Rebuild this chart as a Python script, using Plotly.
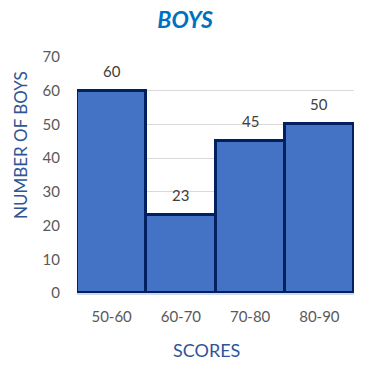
import plotly.graph_objects as go

categories = ["50-60", "60-70", "70-80", "80-90"]
boys = [60, 23, 45, 50]
y_ticks = [0, 10, 20, 30, 40, 50, 60, 70]

font_family = "Lato, 'Open Sans', sans-serif"

fig = go.Figure()
fig.add_trace(go.Bar(
    x=categories, y=boys,
    marker=dict(color="#4472C4", line=dict(color="#002060", width=3)),
    showlegend=False,
))
for c, v in zip(categories, boys):
    fig.add_annotation(x=c, y=v, text=str(v), showarrow=False, yanchor="bottom", yshift=9,
                       font=dict(size=15, color="#404040", family=font_family))

# axis titles as positioned annotations
fig.add_annotation(text="SCORES", xref="paper", yref="paper", x=(206 - 77) / 277, y=-(350 - 293) / 236,
                   xanchor="center", yanchor="middle", showarrow=False,
                   font=dict(size=18, color="#2F5597", family=font_family))
fig.add_annotation(text="NUMBER OF BOYS", xref="paper", yref="paper", x=-(77 - 20) / 277, y=(293 - 145) / 236,
                   xanchor="center", yanchor="middle", textangle=-90, showarrow=False,
                   font=dict(size=17, color="#2F5597", family=font_family))

fig.update_layout(
    width=374, height=371,
    margin=dict(l=77, r=20, t=57, b=78),
    paper_bgcolor="white", plot_bgcolor="white",
    bargap=0,
    title=dict(text="<b><i>BOYS</i></b>", x=0.495, xanchor="center", y=0.945, yanchor="middle",
               font=dict(size=23, color="#0070C0", family=font_family)),
    xaxis=dict(type="category", range=[-0.5, 3.5], showgrid=False, showline=True,
               linecolor="#D0D8EC", linewidth=2, ticks="", ticklabelstandoff=9,
               tickfont=dict(size=15, color="#595959", family=font_family)),
    yaxis=dict(range=[0, 70], tickvals=y_ticks, showgrid=True, gridcolor="#D9D9D9", gridwidth=1,
               zeroline=False, ticks="", ticklabelstandoff=16,
               tickfont=dict(size=15, color="#595959", family=font_family)),
)

fig.write_html("out.html")
